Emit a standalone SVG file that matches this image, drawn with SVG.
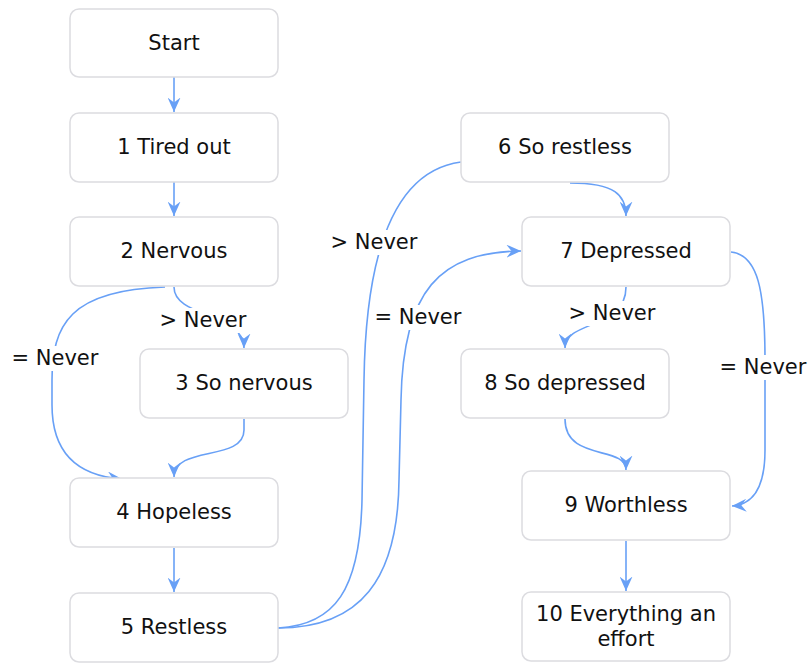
<svg xmlns="http://www.w3.org/2000/svg" width="809" height="663" viewBox="0 0 809 663">
<style>
.node rect{fill:#ffffff;stroke:#dcdce0;stroke-width:1.5}
text{font-family:"DejaVu Sans",Verdana,sans-serif;font-size:21px;fill:#111;text-anchor:middle}
.edge{fill:none;stroke:#68a0f6;stroke-width:1.6}
.lbl rect{fill:#ffffff}
</style>
<defs>
<marker id="arr" viewBox="0 0 15 13" refX="14.5" refY="6.5" markerWidth="15" markerHeight="13" markerUnits="userSpaceOnUse" orient="auto">
<path d="M0,0 L14.5,6.5 L0,13 L5,6.5 z" fill="#68a0f6"/>
</marker>
</defs>
<rect width="809" height="663" fill="#ffffff"/>
<g id="connectors">
<path class="edge" d="M174,77 L174,112" marker-end="url(#arr)"/>
<path class="edge" d="M174,182 L174,216" marker-end="url(#arr)"/>
<path class="edge" d="M174,287 C174,318 244,312 244,348" marker-end="url(#arr)"/>
<path class="edge" d="M165,287 C70,290 52,325 52,380 L52,405 C52,455 80,476 122,479" marker-end="url(#arr)"/>
<path class="edge" d="M244,419 L244,430 C244,462 174,445 174,477" marker-end="url(#arr)"/>
<path class="edge" d="M174,548 L174,592" marker-end="url(#arr)"/>
<path class="edge" d="M278,628 C335,625 360,590 362,500 L364,380 C366,240 400,170 461,162"/>
<path class="edge" d="M278,628 C360,628 398,580 399,480 L401,400 C403,290 440,252 521,251" marker-end="url(#arr)"/>
<path class="edge" d="M570,183 C615,183 626,195 626,216" marker-end="url(#arr)"/>
<path class="edge" d="M626,287 C626,330 565,320 565,348" marker-end="url(#arr)"/>
<path class="edge" d="M731,252 C758,255 765,290 765,360 L765,450 C765,490 752,505 732,506" marker-end="url(#arr)"/>
<path class="edge" d="M565,419 C565,462 626,445 626,470" marker-end="url(#arr)"/>
<path class="edge" d="M626,541 L626,591" marker-end="url(#arr)"/>
</g>
<g id="labels">
<g class="lbl"><rect x="158" y="308" width="90" height="25"/><text x="203" y="327">&gt; Never</text></g>
<g class="lbl"><rect x="10" y="346" width="90" height="25"/><text x="55" y="365">= Never</text></g>
<g class="lbl"><rect x="329" y="230" width="90" height="25"/><text x="374" y="249">&gt; Never</text></g>
<g class="lbl"><rect x="373" y="305" width="90" height="25"/><text x="418" y="324">= Never</text></g>
<g class="lbl"><rect x="567" y="301" width="90" height="25"/><text x="612" y="320">&gt; Never</text></g>
<g class="lbl"><rect x="719" y="355" width="90" height="25"/><text x="763" y="374">= Never</text></g>
</g>
<g id="n0" class="node"><rect x="70" y="9" width="208" height="68" rx="9"/><text x="174" y="50">Start</text></g>
<g id="n1" class="node"><rect x="70" y="113" width="208" height="69" rx="9"/><text x="174" y="154">1 Tired out</text></g>
<g id="n2" class="node"><rect x="70" y="217" width="208" height="69" rx="9"/><text x="174" y="258">2 Nervous</text></g>
<g id="n3" class="node"><rect x="140" y="349" width="208" height="69" rx="9"/><text x="244" y="390">3 So nervous</text></g>
<g id="n4" class="node"><rect x="70" y="478" width="208" height="69" rx="9"/><text x="174" y="519">4 Hopeless</text></g>
<g id="n5" class="node"><rect x="70" y="593" width="208" height="69" rx="9"/><text x="174" y="634">5 Restless</text></g>
<g id="n6" class="node"><rect x="461" y="113" width="208" height="69" rx="9"/><text x="565" y="154">6 So restless</text></g>
<g id="n7" class="node"><rect x="522" y="217" width="208" height="69" rx="9"/><text x="626" y="258">7 Depressed</text></g>
<g id="n8" class="node"><rect x="461" y="349" width="208" height="69" rx="9"/><text x="565" y="390">8 So depressed</text></g>
<g id="n9" class="node"><rect x="522" y="471" width="208" height="69" rx="9"/><text x="626" y="512">9 Worthless</text></g>
<g id="n10" class="node"><rect x="522" y="592" width="208" height="69" rx="9"/><text x="626" y="621">10 Everything an</text><text x="626" y="646">effort</text></g>
</svg>
